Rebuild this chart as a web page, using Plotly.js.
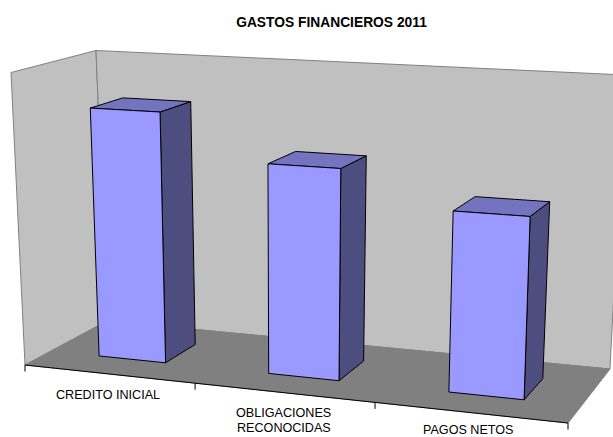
<!DOCTYPE html>
<html><head><meta charset="utf-8">
<script src="https://cdn.plot.ly/plotly-3.0.1.min.js"></script>
<style>html,body{margin:0;padding:0;background:#fff}#c{width:613px;height:437px}</style>
</head><body><div id="c"></div>
<script>
// --- data ---
const chartTitle = 'GASTOS FINANCIEROS 2011';
const categories = ['CREDITO INICIAL', 'OBLIGACIONES<br>RECONOCIDAS', 'PAGOS NETOS'];
const values = [86.1, 70.7, 59.2];
const axisMax = 100;

// --- 3D box geometry (screen projection of the chart box) ---
const floorQuad = [[25,365],[568,423],[610,369],[107,321]];
const ceilQuad  = [[11,72.5],[579,101.5],[625,75],[96,50.5]];
const barLeft  = [0.1, 0.437, 0.77];
const barRight = [0.235, 0.57, 0.902];
const barNear = 0.30, barFar = 0.70;
const tickPos = [0, 0.338, 0.670, 1];
const labelPos = [[107.5,395],[283.5,420.5],[468,430]];
const labelLineGap = 14.5;

function homography(q){
  const [[x0,y0],[x1,y1],[x2,y2],[x3,y3]] = q;
  const dx1=x1-x2, dx2=x3-x2, sx=x0-x1+x2-x3;
  const dy1=y1-y2, dy2=y3-y2, sy=y0-y1+y2-y3;
  const den=dx1*dy2-dx2*dy1;
  const g=(sx*dy2-dx2*sy)/den, h=(dx1*sy-sx*dy1)/den;
  const a=x1-x0+g*x1, b=x3-x0+h*x3, d=y1-y0+g*y1, e=y3-y0+h*y3;
  return (u,v)=>{const w=g*u+h*v+1;return [(a*u+b*v+x0)/w,(d*u+e*v+y0)/w];};
}
const Hf=homography(floorQuad), Hc=homography(ceilQuad);
function P(u,v,t){
  const p=Hf(u,v), q=Hc(u,v);
  return [p[0]+(q[0]-p[0])*t, p[1]+(q[1]-p[1])*t];
}
function poly(pts,fill,line,w){
  const c=pts.concat([pts[0]]);
  return {type:'scatter',mode:'lines',x:c.map(p=>p[0]),y:c.map(p=>p[1]),
    fill:'toself',fillcolor:fill,line:{color:line,width:w===undefined?1:w},hoverinfo:'skip',showlegend:false};
}
function seg(a,b,color,w){
  return {type:'scatter',mode:'lines',x:[a[0],b[0]],y:[a[1],b[1]],line:{color:color,width:w||1},hoverinfo:'skip',showlegend:false};
}
const WALL='#C0C0C0',FLOOR='#808080',EDGE='#808080';
const traces=[];
// walls
traces.push(poly([P(0,0,0),P(0,1,0),P(0,1,1),P(0,0,1)],WALL,EDGE));
traces.push(poly([P(0,1,0),P(1,1,0),P(1,1,1),P(0,1,1)],WALL,EDGE));
// floor
traces.push(poly([P(0,0,0),P(1,0,0),P(1,1,0),P(0,1,0)],FLOOR,FLOOR));
// axis
traces.push(seg(P(0,0,0),P(1,0,0),'#000'));
tickPos.forEach(u=>{const p=P(u,0,0);traces.push(seg(p,[p[0],p[1]+6.5],'#000'));});
// bars
values.forEach((val,i)=>{
  const t=val/axisMax,l=barLeft[i],r=barRight[i],n=barNear,f=barFar;
  traces.push(poly([P(r,n,0),P(r,f,0),P(r,f,t),P(r,n,t)],'#4D4D80','#000'));
  traces.push(poly([P(l,n,t),P(r,n,t),P(r,f,t),P(l,f,t)],'#7373BF','#000'));
  traces.push(poly([P(l,n,0),P(r,n,0),P(r,n,t),P(l,n,t)],'#9999FF','#000'));
});
const annotations=[];
categories.forEach((c,i)=>{
  const lines=c.split('<br>');
  lines.forEach((ln,k)=>annotations.push({
    text:ln,x:labelPos[i][0],y:labelPos[i][1]+(k-(lines.length-1)/2)*labelLineGap,
    xref:'x',yref:'y',showarrow:false,xanchor:'center',yanchor:'middle',align:'center',
    font:{family:'"Liberation Sans",Arial,sans-serif',size:12.6,color:'#000'}
  }));
});
const layout={
  width:613,height:437,margin:{l:0,r:0,t:0,b:0},
  paper_bgcolor:'#fff',plot_bgcolor:'#fff',showlegend:false,
  title:{text:'<b>'+chartTitle+'</b>',x:331.5/613,xanchor:'center',y:1-22/437,yanchor:'middle',
    font:{family:'"Liberation Sans",Arial,sans-serif',size:13.8,color:'#000'}},
  xaxis:{range:[0,613],visible:false,fixedrange:true},
  yaxis:{range:[437,0],visible:false,fixedrange:true},
  annotations
};
Plotly.newPlot('c',traces,layout,{displayModeBar:false,staticPlot:true});
</script></body></html>
